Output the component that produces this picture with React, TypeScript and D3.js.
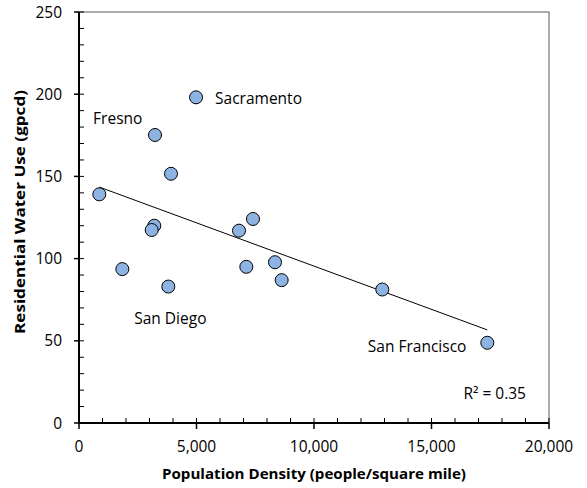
import React, { useEffect, useRef } from 'react';
import * as d3 from 'd3';

// population density (people / square mile) and residential water use (gpcd)
const density = [4980, 3234, 3915, 864, 3204, 3093, 6808, 7404, 1844, 3801, 7120, 8340, 8624, 12906, 17374];
const waterUse = [198.1, 175.2, 151.6, 139.1, 120, 117.4, 117, 124.1, 93.6, 83, 95, 97.8, 86.9, 81.2, 48.8];

const cityNames = ['Sacramento', 'Fresno', 'San Diego', 'San Francisco'];
const cityX = [5790, 600, 2350, 12290];
const cityY = [194, 182, 60.5, 43.1];

const xTicks = [0, 5000, 10000, 15000, 20000];
const yTicks = [0, 50, 100, 150, 200, 250];
const rSquared = 'R² = 0.35';

const FONT = "'Open Sans', 'Liberation Sans', sans-serif";

export default function App() {
  const ref = useRef<SVGSVGElement>(null);

  useEffect(() => {
    const width = 587;
    const height = 488;
    const m = { left: 79, right: 38, top: 12, bottom: 65 };

    const svg = d3.select(ref.current).attr('width', width).attr('height', height);
    svg.selectAll('*').remove();

    const x = d3.scaleLinear().domain([0, 20000]).range([m.left, width - m.right]);
    const y = d3.scaleLinear().domain([0, 250]).range([height - m.bottom, m.top]);

    // frame (thin top and right)
    svg.append('rect')
      .attr('x', x(0)).attr('y', y(250))
      .attr('width', x(20000) - x(0)).attr('height', y(0) - y(250))
      .attr('fill', 'none').attr('stroke', '#595959').attr('stroke-width', 1);

    // minor ticks inside
    const g = svg.append('g');
    g.selectAll('.ym').data(d3.range(0, 251, 10)).join('line')
      .attr('x1', x(0)).attr('x2', x(0) + 5)
      .attr('y1', d => y(d)).attr('y2', d => y(d))
      .attr('stroke', '#000').attr('stroke-width', 1);
    g.selectAll('.xm').data(d3.range(0, 20001, 1000)).join('line')
      .attr('x1', d => x(d)).attr('x2', d => x(d))
      .attr('y1', y(0)).attr('y2', y(0) - 5)
      .attr('stroke', '#000').attr('stroke-width', 1);

    // major ticks outside
    g.selectAll('.yM').data(yTicks).join('line')
      .attr('x1', x(0) - 5).attr('x2', x(0))
      .attr('y1', d => y(d)).attr('y2', d => y(d))
      .attr('stroke', '#000').attr('stroke-width', 1.5);
    g.selectAll('.xM').data(xTicks).join('line')
      .attr('x1', d => x(d)).attr('x2', d => x(d))
      .attr('y1', y(0)).attr('y2', y(0) + 6)
      .attr('stroke', '#000').attr('stroke-width', 1.5);

    // thick left and bottom axes
    svg.append('line')
      .attr('x1', x(0)).attr('x2', x(0)).attr('y1', y(0) + 1).attr('y2', y(250))
      .attr('stroke', '#000').attr('stroke-width', 2);
    svg.append('line')
      .attr('x1', x(0) - 1).attr('x2', x(20000)).attr('y1', y(0)).attr('y2', y(0))
      .attr('stroke', '#000').attr('stroke-width', 2);

    // tick labels
    svg.selectAll('.yl').data(yTicks).join('text')
      .attr('x', x(0) - 17).attr('y', d => y(d)).attr('dy', '0.36em')
      .attr('text-anchor', 'end')
      .style('font-family', FONT).style('font-size', '15.5px').attr('fill', '#000')
      .text(d => d3.format(',')(d));
    svg.selectAll('.xl').data(xTicks).join('text')
      .attr('x', d => x(d)).attr('y', y(0) + 29)
      .attr('text-anchor', 'middle')
      .style('font-family', FONT).style('font-size', '15.5px').attr('fill', '#000')
      .text(d => d3.format(',')(d));

    // axis titles
    svg.append('text')
      .attr('x', 314).attr('y', 479).attr('text-anchor', 'middle')
      .attr('textLength', 304).attr('lengthAdjust', 'spacingAndGlyphs')
      .style('font-family', FONT).style('font-size', '15px').style('font-weight', 'bold')
      .text('Population Density (people/square mile)');
    svg.append('text')
      .attr('transform', 'translate(25,212) rotate(-90)').attr('text-anchor', 'middle')
      .attr('textLength', 244).attr('lengthAdjust', 'spacingAndGlyphs')
      .style('font-family', FONT).style('font-size', '15px').style('font-weight', 'bold')
      .text('Residential Water Use (gpcd)');

    // linear trend line (least squares)
    const mx = d3.mean(density)!;
    const my = d3.mean(waterUse)!;
    const sxy = d3.sum(density, (d, i) => (d - mx) * (waterUse[i] - my));
    const sxx = d3.sum(density, d => (d - mx) * (d - mx));
    const slope = sxy / sxx;
    const icpt = my - slope * mx;
    const ext = d3.extent(density) as [number, number];
    const line = d3.line<number>().x(d => x(d)).y(d => y(icpt + slope * d));
    svg.append('path').datum(ext)
      .attr('d', line).attr('fill', 'none').attr('stroke', '#000').attr('stroke-width', 1);

    // points
    svg.selectAll('circle').data(density).join('circle')
      .attr('cx', d => x(d)).attr('cy', (d, i) => y(waterUse[i]))
      .attr('r', 6.5)
      .attr('fill', '#8DB3E2').attr('stroke', '#000').attr('stroke-width', 1);

    // city labels
    svg.selectAll('.city').data(cityNames).join('text')
      .attr('x', (d, i) => x(cityX[i])).attr('y', (d, i) => y(cityY[i]))
      .style('font-family', FONT).style('font-size', '15.5px').attr('fill', '#000')
      .text(d => d);

    svg.append('text')
      .attr('x', x(19020)).attr('y', y(14.8)).attr('text-anchor', 'end')
      .style('font-family', FONT).style('font-size', '15.5px').attr('fill', '#000')
      .text(rSquared);
  }, []);

  return (
    <div>
      <svg ref={ref} style={{ position: 'absolute', left: 0, top: 0 }} />
    </div>
  );
}
